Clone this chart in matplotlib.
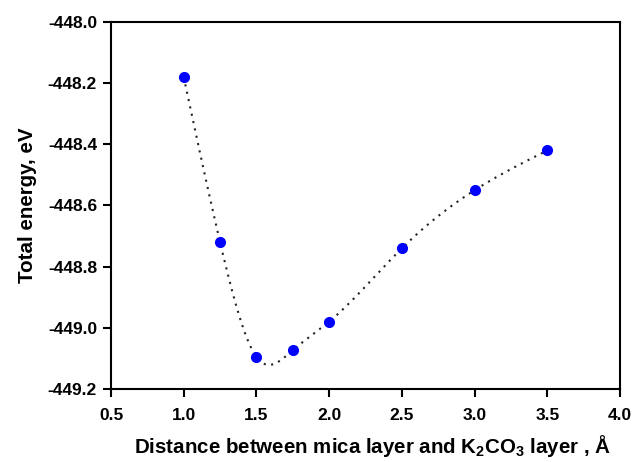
import numpy as np
import matplotlib
matplotlib.use("Agg")
import matplotlib.pyplot as plt

plt.rcParams['font.family'] = ['Liberation Sans', 'DejaVu Sans']
plt.rcParams['font.weight'] = 'bold'
plt.rcParams['mathtext.fontset'] = 'custom'
plt.rcParams['mathtext.rm'] = 'Liberation Sans:bold'
plt.rcParams['mathtext.bf'] = 'Liberation Sans:bold'
plt.rcParams['mathtext.default'] = 'rm'

distance = [1.0, 1.25, 1.5, 1.75, 2.0, 2.5, 3.0, 3.5]
energy = [-448.18, -448.72, -449.095, -449.073, -448.98, -448.74, -448.55, -448.42]
xticks = [0.5, 1.0, 1.5, 2.0, 2.5, 3.0, 3.5, 4.0]
yticks = [-449.2, -449.0, -448.8, -448.6, -448.4, -448.2, -448.0]


def natural_cubic_spline(x, y, xs):
    x = np.asarray(x, float)
    y = np.asarray(y, float)
    n = len(x)
    h = np.diff(x)
    A = np.zeros((n, n))
    b = np.zeros(n)
    A[0, 0] = A[-1, -1] = 1.0
    for i in range(1, n - 1):
        A[i, i - 1] = h[i - 1]
        A[i, i] = 2 * (h[i - 1] + h[i])
        A[i, i + 1] = h[i]
        b[i] = 6 * ((y[i + 1] - y[i]) / h[i] - (y[i] - y[i - 1]) / h[i - 1])
    M = np.linalg.solve(A, b)
    idx = np.clip(np.searchsorted(x, xs) - 1, 0, n - 2)
    x0, x1 = x[idx], x[idx + 1]
    hh = x1 - x0
    t0, t1 = x1 - xs, xs - x0
    return (M[idx] * t0 ** 3 / (6 * hh) + M[idx + 1] * t1 ** 3 / (6 * hh)
            + (y[idx] / hh - M[idx] * hh / 6) * t0
            + (y[idx + 1] / hh - M[idx + 1] * hh / 6) * t1)


fig = plt.figure(figsize=(6.34, 4.62), dpi=100)
ax = fig.add_axes([111 / 634, 1 - 389 / 462, 509 / 634, 367 / 462])

xs = np.linspace(distance[0], distance[-1], 400)
ax.plot(xs, natural_cubic_spline(distance, energy, xs), color='#222222',
        linestyle=(0, (1, 2.6)), linewidth=1.5, zorder=2)
ax.plot(distance, energy, 'o', color='#0000ff', markersize=7, zorder=3)

ax.set_xlim(0.5, 4.0)
ax.set_ylim(-449.2, -448.0)
ax.set_xticks(xticks)
ax.set_yticks(yticks)
ax.set_xticklabels([f"{v:.1f}" for v in xticks])
ax.set_yticklabels([f"{v:.1f}" for v in yticks])
ax.tick_params(direction='out', length=6, width=1.5, labelsize=12.5,
               top=False, right=False)
ax.tick_params(axis='x', pad=8)
ax.tick_params(axis='y', pad=4)
for s in ax.spines.values():
    s.set_linewidth(1.5)

ax.set_xlabel("Distance between mica layer and K$_2$CO$_3$ layer , Å",
              fontsize=14.8, fontweight='bold')
ax.xaxis.set_label_coords(0.513, -0.12)
ax.set_ylabel("Total energy, eV", fontsize=14.8, fontweight='bold', labelpad=8)

fig.savefig("out.png", dpi=100)
